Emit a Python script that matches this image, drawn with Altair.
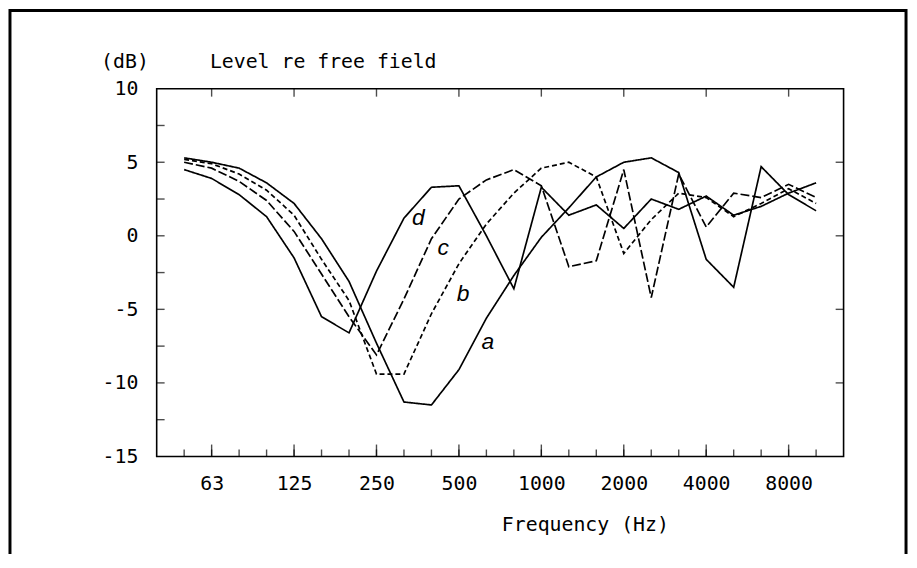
import altair as alt
import pandas as pd

# third-octave band centre frequencies (Hz)
freq_labels = ["50", "63", "80", "100", "125", "160", "200", "250", "315", "400",
               "500", "630", "800", "1000", "1250", "1600", "2000", "2500", "3150",
               "4000", "5000", "6300", "8000", "10000"]

curve_a = [5.3, 5.0, 4.6, 3.6, 2.2, -0.2, -3.1, -7.3, -11.3, -11.5, -9.1, -5.6,
           -2.7, -0.1, 1.9, 4.0, 5.0, 5.3, 4.3, -1.6, -3.5, 4.7, 2.8, 1.7]
curve_b = [5.2, 4.9, 4.2, 3.1, 1.4, -1.6, -4.4, -9.4, -9.4, -5.3, -1.9, 0.8,
           2.9, 4.6, 5.0, 4.0, -1.2, 1.1, 2.9, 2.6, 1.3, 2.2, 3.2, 2.2]
curve_c = [5.0, 4.6, 3.7, 2.4, 0.3, -2.6, -5.5, -8.1, -4.3, -0.2, 2.5, 3.8,
           4.5, 3.4, -2.1, -1.7, 4.5, -4.2, 4.2, 0.6, 2.9, 2.6, 3.5, 2.6]
curve_d = [4.5, 3.9, 2.8, 1.3, -1.5, -5.5, -6.6, -2.4, 1.2, 3.3, 3.4, 0.0,
           -3.6, 3.3, 1.4, 2.1, 0.5, 2.5, 1.8, 2.7, 1.4, 2.0, 2.9, 3.6]

curve_names = ["a", "b", "c", "d"]
curve_dash = [[1, 0], [5, 3], [9, 3], [1, 0]]

# curve labels (band index, level in dB)
label_text = ["a", "b", "c", "d"]
label_idx = [11.05, 10.15, 9.43, 8.52]
label_db = [-7.25, -3.95, -0.8, 1.23]

octave_idx = [1, 4, 7, 10, 13, 16, 19, 22]
y_ticks = [-15, -10, -5, 0, 5, 10]
left_minor = [-12.5, -10, -7.5, -5, -2.5, 0, 2.5, 5, 7.5]
right_minor = [-10, -5, 0, 5]

rows = []
for name, vals in zip(curve_names, [curve_a, curve_b, curve_c, curve_d]):
    for i, v in enumerate(vals):
        rows.append({"curve": name, "idx": i, "freq": freq_labels[i], "level": v})
df = pd.DataFrame(rows)

W, H = 693, 371
FONT = "DejaVu Sans Mono"

xscale = alt.Scale(domain=[-1, 24], nice=False, zero=False)
yscale = alt.Scale(domain=[-15, 10], nice=False, zero=False)

label_expr = "[" + ",".join("'%s'" % f for f in freq_labels) + "][datum.value]"

xaxis = alt.Axis(values=octave_idx, labelExpr=label_expr, ticks=False, domain=False,
                 grid=False, labelPadding=17, labelFontSize=20, labelFont=FONT,
                 labelColor="black", title="Frequency (Hz)", titleFont=FONT,
                 titleFontSize=20, titleFontWeight="normal", titleColor="black",
                 titleX=432, titleY=75, titleBaseline="alphabetic", titleAlign="center")
yaxis = alt.Axis(values=y_ticks, labelExpr="'' + datum.value", ticks=False, domain=False,
                 grid=False, labelPadding=19, labelFontSize=20, labelFont=FONT,
                 labelColor="black", title=None)

lines = alt.Chart(df).mark_line(color="black", strokeWidth=1.7).encode(
    x=alt.X("idx:Q", scale=xscale, axis=xaxis),
    y=alt.Y("level:Q", scale=yscale, axis=yaxis),
    strokeDash=alt.StrokeDash("curve:N", scale=alt.Scale(domain=curve_names, range=curve_dash),
                              legend=None),
    order="idx:Q",
)

lab_df = pd.DataFrame({"t": label_text, "idx": label_idx, "level": label_db})
labels = alt.Chart(lab_df).mark_text(font="Liberation Sans", fontSize=23, fontStyle="italic",
                                     color="black").encode(
    x=alt.X("idx:Q", scale=xscale), y=alt.Y("level:Q", scale=yscale), text="t:N")

all_idx = pd.DataFrame({"idx": list(range(len(freq_labels)))})
oct_df = pd.DataFrame({"idx": octave_idx})

bottom_minor = alt.Chart(all_idx).mark_tick(orient="vertical", size=7, thickness=1.4,
                                            color="black", yOffset=-3.5).encode(
    x=alt.X("idx:Q", scale=xscale), y=alt.datum(-15))
bottom_major = alt.Chart(oct_df).mark_tick(orient="vertical", size=12, thickness=1.4,
                                           color="black", yOffset=-6).encode(
    x=alt.X("idx:Q", scale=xscale), y=alt.datum(-15))
top_major = alt.Chart(oct_df).mark_tick(orient="vertical", size=8, thickness=1.4,
                                        color="black", yOffset=4).encode(
    x=alt.X("idx:Q", scale=xscale), y=alt.datum(10))
left_t = alt.Chart(pd.DataFrame({"level": left_minor})).mark_tick(
    orient="horizontal", size=8, thickness=1.4, color="black", xOffset=4).encode(
    x=alt.datum(-1), y=alt.Y("level:Q", scale=yscale))
right_t = alt.Chart(pd.DataFrame({"level": right_minor})).mark_tick(
    orient="horizontal", size=8, thickness=1.4, color="black", xOffset=-4).encode(
    x=alt.datum(24), y=alt.Y("level:Q", scale=yscale))

one = alt.Data(values=[{"k": 1}])
db_text = alt.Chart(one).mark_text(font=FONT, fontSize=20, align="center",
                                   baseline="alphabetic", color="black").encode(
    x=alt.value(-32), y=alt.value(-21), text=alt.value("(dB)"))
title_text = alt.Chart(one).mark_text(font=FONT, fontSize=20, align="center",
                                      baseline="alphabetic", color="black").encode(
    x=alt.value(168), y=alt.value(-21), text=alt.value("Level re free field"))

border = alt.Chart(one).mark_rect(fillOpacity=0, stroke="black", strokeWidth=3).encode(
    x=alt.value(-148), x2=alt.value(756), y=alt.value(-79), y2=alt.value(480))

chart = alt.layer(
    lines, labels, bottom_minor, bottom_major, top_major, left_t, right_t,
    db_text, title_text, border
).properties(
    width=W, height=H,
    autosize=alt.AutoSizeParams(type="none"),
    padding={"left": 150, "top": 79, "right": 66, "bottom": 96},
    background="white",
).configure_view(stroke="black", strokeWidth=1.6)

chart.save("out.html", embed_options={"renderer": "svg", "actions": False})
